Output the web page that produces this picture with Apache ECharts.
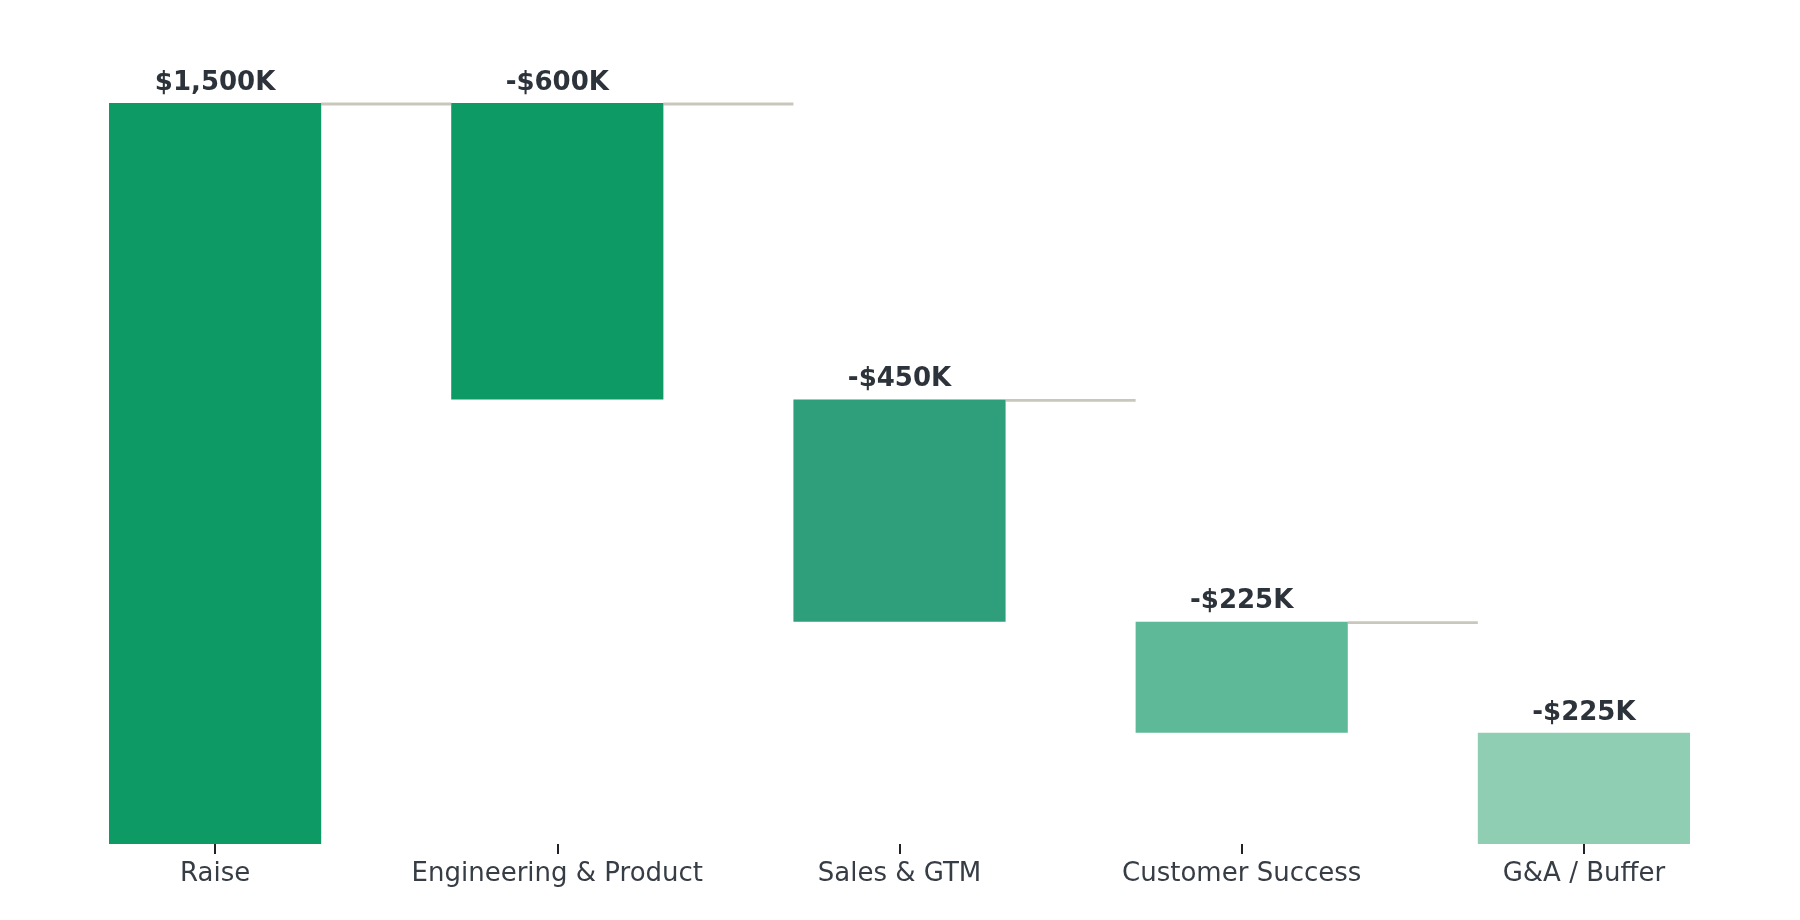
<!DOCTYPE html>
<html>
<head>
<meta charset="utf-8">
<script src="https://cdn.jsdelivr.net/npm/echarts@6/dist/echarts.min.js"></script>
<style>
html,body{margin:0;padding:0;background:#fff;}
#chart{width:1800px;height:920px;}
</style>
</head>
<body>
<div id="chart"></div>
<script>
// ---- data ----
const categories = ['Raise', 'Engineering & Product', 'Sales & GTM', 'Customer Success', 'G&A / Buffer'];
const amounts = [1500, -600, -450, -225, -225];
const labels = ['$1,500K', '-$600K', '-$450K', '-$225K', '-$225K'];
const barColors = ['#0d9a64', '#0d9a64', '#2e9e7b', '#5db997', '#8fceb3'];

// ---- derived waterfall geometry (values only) ----
const bases = [];
const heights = [];
let running = 0;
amounts.forEach((a, i) => {
  if (i === 0) { bases.push(0); heights.push(a); running = a; }
  else { running += a; bases.push(running); heights.push(-a); }
});
const tops = bases.map((b, i) => b + heights[i]);
const connectorData = [];
for (let i = 0; i < categories.length - 1; i++) connectorData.push([i, tops[i]]);

const BAR_FRAC = 0.62;
const chart = echarts.init(document.getElementById('chart'), null, {renderer: 'canvas'});
chart.setOption({
  backgroundColor: '#ffffff',
  animation: false,
  textStyle: {fontFamily: 'DejaVu Sans'},
  grid: {left: 44, right: 45, top: 103, bottom: 76, containLabel: false},
  xAxis: {
    type: 'category',
    data: categories,
    axisLine: {show: false},
    axisTick: {show: true, alignWithLabel: true, length: 10, lineStyle: {color: '#1f2328', width: 2}},
    axisLabel: {color: '#373d45', fontSize: 26, fontFamily: 'DejaVu Sans', margin: 17, interval: 0},
    splitLine: {show: false}
  },
  yAxis: {
    type: 'value', min: 0, max: 1500, show: false,
    splitLine: {show: false}
  },
  series: [
    {
      type: 'custom',
      z: 1,
      silent: true,
      encode: {x: 0, y: 1},
      data: connectorData,
      renderItem: function (params, api) {
        const p = api.coord([api.value(0), api.value(1)]);
        const band = api.size([1, 0])[0];
        const half = band * BAR_FRAC / 2;
        return {
          type: 'line',
          shape: {x1: p[0] + half, y1: p[1] + 1, x2: p[0] + band - half, y2: p[1] + 1},
          style: {stroke: '#c9c7bb', lineWidth: 2.8}
        };
      }
    },
    {
      type: 'bar',
      stack: 'wf',
      barWidth: (BAR_FRAC * 100) + '%',
      itemStyle: {color: 'transparent'},
      silent: true,
      z: 2,
      data: bases
    },
    {
      type: 'bar',
      stack: 'wf',
      barWidth: (BAR_FRAC * 100) + '%',
      z: 3,
      data: heights.map((h, i) => ({value: h, itemStyle: {color: barColors[i]}})),
      label: {
        show: true,
        position: 'top',
        distance: 7,
        color: '#2d333a',
        fontSize: 26,
        fontWeight: 'bold',
        fontFamily: 'DejaVu Sans',
        formatter: function (p) { return labels[p.dataIndex]; }
      }
    }
  ]
});
</script>
</body>
</html>
